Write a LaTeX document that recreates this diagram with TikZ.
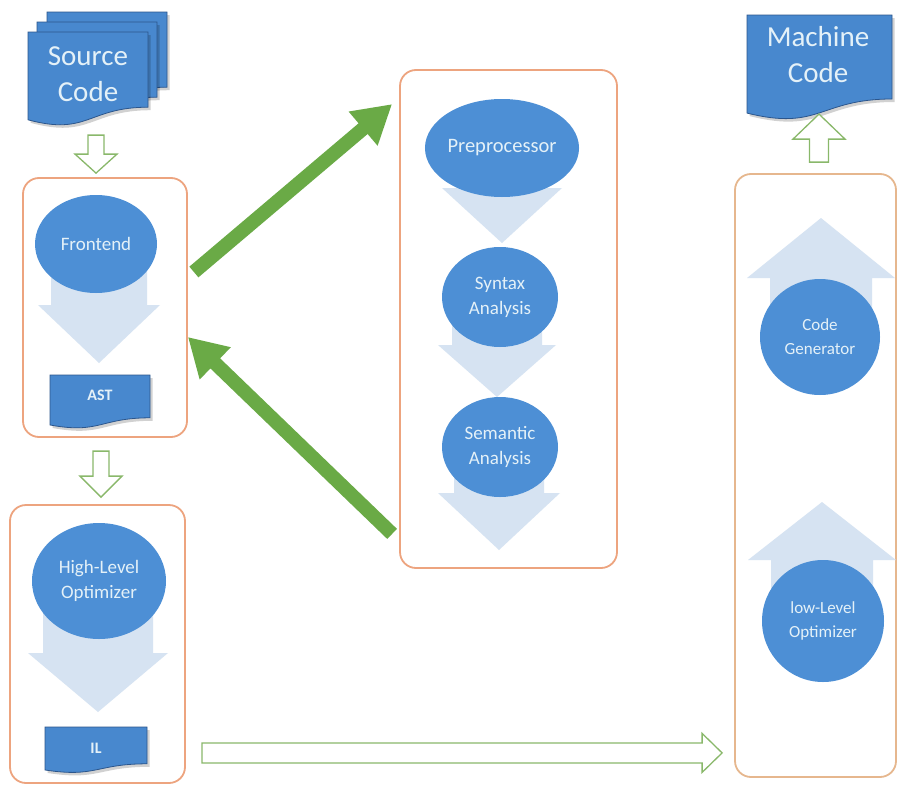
\documentclass[tikz,border=0pt]{standalone}
\usepackage{fontspec}
\setmainfont{Carlito}
\usetikzlibrary{arrows.meta,calc,shapes.geometric}
\definecolor{docblue}{RGB}{72,136,206}
\definecolor{docline}{RGB}{44,86,140}
\definecolor{circblue}{RGB}{77,143,213}
\definecolor{pale}{RGB}{214,227,242}
\definecolor{boxline}{RGB}{237,164,127}
\definecolor{boxlinetwo}{RGB}{230,183,142}
\definecolor{arrgreen}{RGB}{106,170,70}
\definecolor{hollowline}{RGB}{137,184,106}
\definecolor{lighttext}{RGB}{228,241,248}

% style, x1, y1, x2, h
\newcommand\drawdoc[5]{%
  \fill[black,opacity=0.18,shift={(2.5,3)}] (#2,#3) -- (#4,#3) -- (#4,{#3+0.8*#5})
    .. controls ({(#2+#4)/2},{#3+0.8*#5}) and ({(#2+#4)/2},{#3+1.107*#5}) .. (#2,{#3+0.934*#5}) -- cycle;
  \draw[#1] (#2,#3) -- (#4,#3) -- (#4,{#3+0.8*#5})
    .. controls ({(#2+#4)/2},{#3+0.8*#5}) and ({(#2+#4)/2},{#3+1.107*#5}) .. (#2,{#3+0.934*#5}) -- cycle;}

\tikzset{
  box/.style={draw=boxline, line width=1.8pt, rounded corners=16pt, fill=white, inner sep=0pt},
  docstyle/.style={fill=docblue, draw=docline, line width=0.8pt},
  circ/.style={ellipse, fill=circblue, text=lighttext, inner sep=0pt, align=center,
    font=\fontsize{19}{25}\selectfont},
  circsmall/.style={circ, font=\fontsize{17}{24}\selectfont},
  bigtext/.style={text=lighttext, align=center, font=\fontsize{29}{36}\selectfont},
  smalltext/.style={text=lighttext, align=center, font=\fontsize{16}{20}\selectfont\bfseries},
  hollow/.style={draw=hollowline, line width=1.3pt, fill=white, line join=miter},
  garrow/.style={draw=arrgreen, line width=14pt, -{Triangle[length=38pt,width=42pt]}},
  palearrow/.style={fill=pale}
}

\begin{document}
\begin{tikzpicture}[x=1pt,y=-1pt]
\path[use as bounding box] (0,0) rectangle (902,787);
\fill[white] (0,0) rectangle (902,787);

% containers
\node[box, minimum width=164pt, minimum height=259pt] (febox) at (105,307.5) {};
\node[box, minimum width=175pt, minimum height=278pt] (hlbox) at (97.5,644) {};
\node[box, minimum width=217pt, minimum height=498pt] (midbox) at (508.5,319) {};
\node[box, draw=boxlinetwo, minimum width=161pt, minimum height=603pt] (rbox) at (815.5,475.5) {};

% pale flow arrows
\fill[palearrow, shift={(99,0)}] (-48,250) -- (48,250) -- (48,305) -- (61,305) -- (0,363) -- (-61,305) -- (-48,305) -- cycle;
\fill[palearrow, shift={(98,0)}] (-55,585) -- (55,585) -- (55,653) -- (70,653) -- (0,712) -- (-70,653) -- (-55,653) -- cycle;
\fill[palearrow, shift={(502,0)}] (-45,150) -- (45,150) -- (45,188) -- (60,188) -- (0,243) -- (-60,188) -- (-45,188) -- cycle;
\fill[palearrow, shift={(497,0)}] (-45,300) -- (45,300) -- (45,345) -- (59,345) -- (0,397) -- (-59,345) -- (-45,345) -- cycle;
\fill[palearrow, shift={(499,0)}] (-45,450) -- (45,450) -- (45,493) -- (61,493) -- (0,550) -- (-61,493) -- (-45,493) -- cycle;
\fill[palearrow, shift={(821,0)}] (-51,338) -- (51,338) -- (51,278) -- (74,278) -- (0,218) -- (-74,278) -- (-51,278) -- cycle;
\fill[palearrow, shift={(822,0)}] (-51,621) -- (51,621) -- (51,560) -- (74,560) -- (0,502) -- (-74,560) -- (-51,560) -- cycle;

% circles
\node[circ, minimum width=122pt, minimum height=98pt] (fe) at (96,244) {Frontend};
\node[circ, minimum width=134pt, minimum height=116pt] (hl) at (99,581) {High-Level\\Optimizer};
\node[circ, minimum width=120pt, minimum height=98pt, font=\fontsize{20.5}{25}\selectfont] (pp) at (502,148) {Preprocessor};
\node[circ, minimum width=116pt, minimum height=100pt] (sy) at (500,297) {Syntax\\Analysis};
\node[circ, minimum width=116pt, minimum height=100pt] (se) at (500,447) {Semantic\\Analysis};
\node[circsmall, minimum width=120pt, minimum height=116pt] (cg) at (820,337) {Code\\Generator};
\node[circsmall, minimum width=122pt, minimum height=122pt] (ll) at (823,621) {low-Level\\Optimizer};

% documents
\drawdoc{docstyle}{47}{12}{167}{94}
\drawdoc{docstyle}{37}{22}{157}{94}
\drawdoc{docstyle}{28}{32}{148}{94}
\node[bigtext] (src) at (88,74) {Source\\Code};

\drawdoc{docstyle}{747}{15}{892}{105}
\node[bigtext] (mc) at (818,55) {Machine\\Code};

\drawdoc{docstyle}{50}{375}{150}{53.5}
\node[smalltext] (ast) at (100,395) {AST};

\drawdoc{docstyle}{45}{727}{147}{46}
\node[smalltext] (il) at (96,748) {IL};

% hollow arrows
\coordinate (h1) at ($(febox.north)+(-9,-42)$);
\draw[hollow, shift={(h1)}] (-8,0) -- (8,0) -- (8,19) -- (21,19) -- (0,38) -- (-21,19) -- (-8,19) -- cycle;
\coordinate (h2) at ($(hlbox.north)+(3.5,-53)$);
\draw[hollow, shift={(h2)}] (-8,0) -- (8,0) -- (8,25) -- (21,25) -- (0,46) -- (-21,25) -- (-8,25) -- cycle;
\coordinate (h3) at ($(rbox.north)+(3.5,-11)$);
\draw[hollow, shift={(h3)}] (-9.5,0) -- (9.5,0) -- (9.5,-23) -- (26,-23) -- (0,-48) -- (-26,-23) -- (-9.5,-23) -- cycle;

\coordinate (ilt) at ($(hlbox.south east)+(16,-31)$);
\coordinate (ilh) at ($(rbox.south west)+(-12,-25)$);
\draw[hollow] ($(ilt)+(0,-10)$) -- ($(ilh)+(-20,-10)$) -- ($(ilh)+(-20,-19.5)$) -- (ilh)
  -- ($(ilh)+(-20,19.5)$) -- ($(ilh)+(-20,10)$) -- ($(ilt)+(0,10)$) -- cycle;

% green arrows
\draw[garrow] ($(febox.east)+(6,-35.5)$) -- ($(midbox.north west)+(-7,35)$);
\draw[garrow] ($(midbox.south west)+(-7,-35)$) -- ($(febox.east)+(0,29.5)$);
\end{tikzpicture}
\end{document}
